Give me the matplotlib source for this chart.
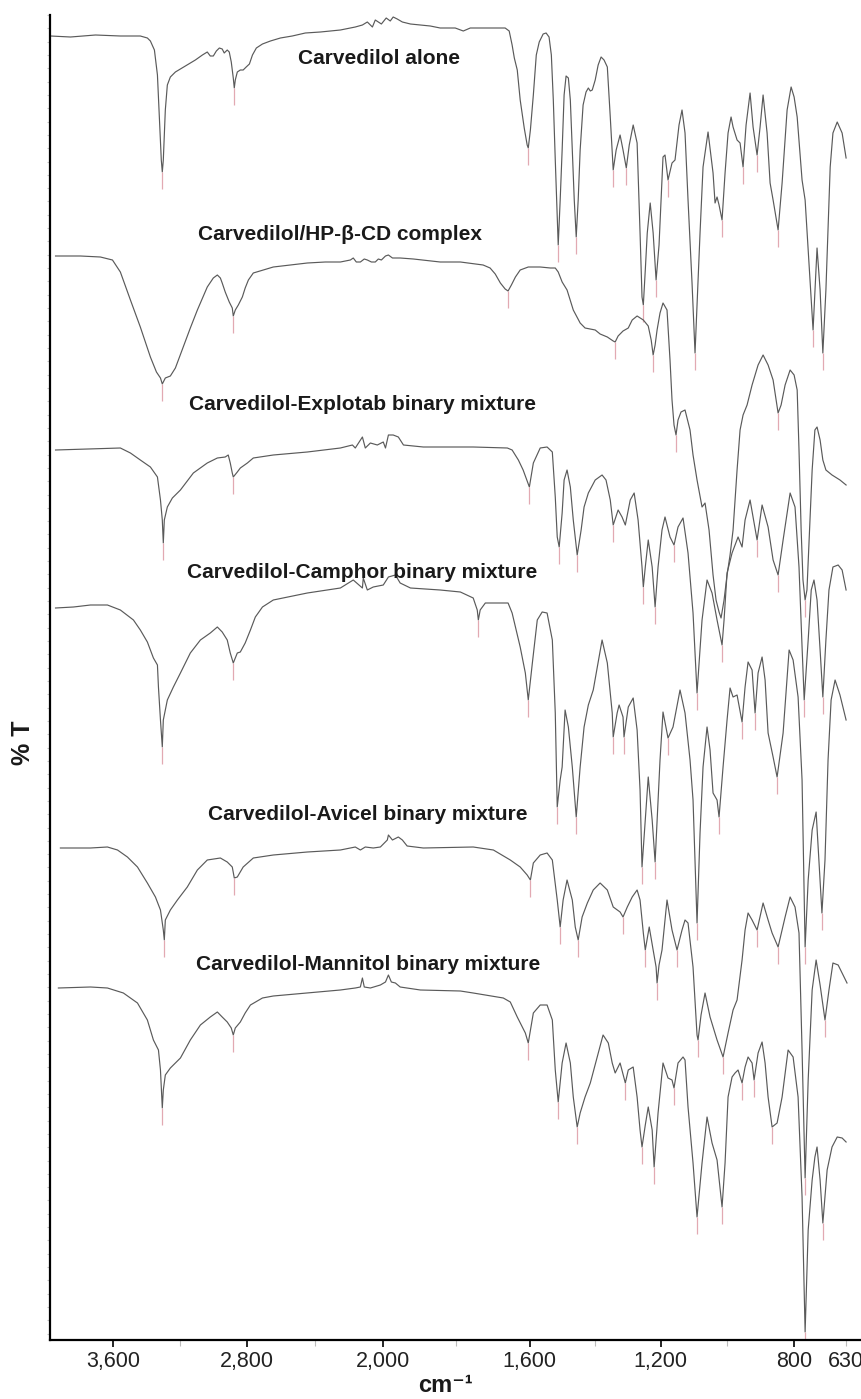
import numpy as np
import matplotlib.pyplot as plt
from matplotlib.ticker import MultipleLocator, NullLocator

plt.rcParams['font.family'] = ['Liberation Sans', 'DejaVu Sans']

# FTIR spectra: wavenumber (cm-1) and stacked %T (offset units)
wn_alone = [3973, 3854, 3705, 3557, 3438, 3396, 3378, 3354, 3336, 3324, 3313, 3307, 3301, 3289, 3277, 3259,
            3229, 3170, 3110, 3068, 3039, 3021, 3003, 2985, 2967, 2950, 2938, 2920, 2908, 2896, 2884, 2878,
            2872, 2860, 2842, 2825, 2807, 2788, 2770, 2747, 2711, 2664, 2605, 2535, 2458, 2369, 2251, 2163,
            2121, 2092, 2074, 2062, 2045, 2027, 2009, 1991, 1980, 1972, 1961, 1947, 1925, 1898, 1871, 1844,
            1803, 1781, 1762, 1708, 1667, 1656, 1648, 1642, 1634, 1626, 1615, 1607, 1604, 1598, 1589, 1580,
            1571, 1559, 1550, 1541, 1534, 1528, 1522, 1516, 1513, 1507, 1501, 1495, 1489, 1482, 1476, 1470,
            1464, 1458, 1452, 1446, 1437, 1428, 1421, 1415, 1409, 1400, 1391, 1382, 1373, 1363, 1354, 1345,
            1336, 1324, 1315, 1305, 1296, 1284, 1272, 1263, 1257, 1253, 1247, 1241, 1232, 1223, 1214, 1205,
            1193, 1187, 1178, 1166, 1157, 1145, 1136, 1127, 1118, 1106, 1097, 1088, 1082, 1073, 1058, 1043,
            1037, 1031, 1025, 1016, 1007, 998, 989, 983, 971, 962, 953, 944, 932, 923, 911, 902, 893, 881,
            872, 863, 848, 836, 821, 809, 800, 790, 774, 764, 754, 738, 725, 715, 706, 696, 682, 673, 659,
            643, 630]
t_alone = [131.1, 131.0, 131.2, 131.1, 131.1, 130.9, 130.6, 129.7, 127.2, 122.7, 118.7, 117.5, 118.7, 123.7,
           126.2, 127.0, 127.5, 128.1, 128.7, 129.2, 129.5, 129.1, 129.1, 129.6, 129.9, 129.8, 129.4, 129.7,
           129.5, 128.5, 126.9, 125.9, 126.7, 127.5, 127.7, 127.7, 128.0, 128.3, 129.2, 129.9, 130.3, 130.6,
           130.9, 131.1, 131.4, 131.5, 131.7, 132.0, 132.2, 132.5, 132.2, 132.0, 132.7, 132.5, 132.3, 132.9,
           132.6, 133.0, 132.8, 132.5, 132.3, 132.2, 132.1, 131.9, 131.9, 131.6, 131.9, 131.9, 131.9, 131.6,
           130.2, 128.9, 127.7, 124.7, 121.9, 120.2, 119.9, 121.7, 125.2, 129.2, 130.5, 131.3, 131.4, 131.0,
           129.2, 124.7, 118.7, 113.2, 110.2, 114.7, 119.7, 125.2, 127.1, 126.9, 124.7, 119.7, 114.7, 111.0,
           114.7, 119.7, 124.2, 125.5, 125.9, 125.6, 125.7, 126.7, 128.2, 129.0, 128.7, 128.0, 123.0, 117.7,
           119.7, 121.2, 119.7, 117.9, 120.2, 122.2, 120.4, 111.4, 105.0, 104.2, 107.7, 111.4, 114.4, 111.4,
           106.7, 110.2, 119.0, 119.2, 116.7, 118.4, 118.7, 122.2, 123.7, 121.4, 114.7, 106.4, 99.4, 106.7,
           111.4, 118.0, 121.5, 117.4, 114.4, 115.0, 114.2, 112.7, 117.4, 121.4, 123.0, 122.0, 120.7, 120.4,
           118.0, 122.2, 125.4, 122.0, 119.2, 122.0, 125.2, 121.4, 116.4, 114.7, 111.7, 116.4, 123.7, 126.0,
           125.0, 123.0, 116.7, 114.7, 109.7, 101.7, 109.9, 105.7, 99.4, 105.7, 118.0, 121.4, 122.5, 121.4,
           118.9]
pk_alone = [3307, 2878, 1604, 1513, 1458, 1345, 1305, 1253, 1214, 1178, 1097, 1016, 953, 911, 848, 738, 706]

wn_hpcd = [3943, 3795, 3676, 3604, 3557, 3497, 3438, 3378, 3342, 3318, 3307, 3289, 3259, 3229, 3182, 3140,
           3098, 3039, 3003, 2979, 2961, 2950, 2932, 2908, 2890, 2884, 2872, 2854, 2830, 2813, 2794, 2765,
           2706, 2647, 2546, 2446, 2340, 2251, 2192, 2175, 2157, 2133, 2110, 2092, 2068, 2045, 2027, 2009,
           1993, 1985, 1974, 1953, 1917, 1844, 1789, 1727, 1708, 1694, 1680, 1667, 1659, 1650, 1639, 1626,
           1604, 1568, 1537, 1522, 1513, 1501, 1486, 1467, 1446, 1431, 1415, 1400, 1385, 1363, 1345, 1339,
           1330, 1315, 1299, 1287, 1272, 1253, 1238, 1229, 1223, 1217, 1211, 1202, 1193, 1181, 1172, 1166,
           1160, 1154, 1148, 1139, 1127, 1112, 1103, 1091, 1076, 1067, 1055, 1043, 1034, 1025, 1019, 1010,
           1001, 992, 983, 971, 962, 953, 941, 926, 908, 893, 878, 863, 854, 848, 839, 827, 812, 800, 790,
           784, 777, 771, 764, 758, 751, 741, 732, 725, 715, 706, 696, 676, 650, 630]
t_hpcd = [109.1, 109.1, 109.0, 108.7, 107.5, 104.7, 102.0, 99.0, 97.5, 96.9, 96.3, 96.9, 97.1, 97.9, 100.0,
          101.9, 103.7, 106.0, 106.9, 107.2, 106.9, 106.4, 105.5, 104.5, 103.9, 103.1, 103.7, 104.2, 105.0,
          105.9, 106.7, 107.4, 107.7, 108.0, 108.2, 108.4, 108.5, 108.5, 108.7, 108.9, 108.5, 108.5, 108.8,
          108.7, 108.5, 108.5, 108.8, 108.7, 109.1, 109.2, 108.9, 108.9, 108.8, 108.5, 108.5, 108.2, 107.9,
          107.3, 106.4, 105.8, 105.6, 106.2, 107.0, 107.7, 108.0, 108.0, 107.9, 107.9, 107.5, 106.5, 105.7,
          103.7, 102.4, 101.9, 101.8, 101.7, 101.3, 101.0, 100.6, 100.5, 101.1, 101.6, 101.9, 102.7, 103.1,
          102.7, 102.1, 100.7, 99.2, 100.2, 101.7, 103.4, 104.4, 103.7, 98.7, 94.7, 92.2, 91.2, 92.7, 93.5,
          93.7, 91.7, 89.2, 86.7, 84.0, 84.4, 81.7, 77.2, 74.7, 73.5, 72.9, 74.7, 77.2, 79.2, 81.7, 87.7,
          91.7, 93.2, 94.2, 96.2, 98.2, 99.2, 98.2, 96.7, 94.7, 93.4, 94.2, 96.2, 97.7, 97.2, 95.7, 89.7,
          81.7, 76.7, 74.7, 75.7, 80.7, 87.7, 91.7, 92.0, 90.7, 88.7, 87.7, 87.2, 86.7, 86.2]
pk_hpcd = [3307, 2884, 1659, 1339, 1223, 1154, 848, 764]

wn_explotab = [3943, 3557, 3497, 3438, 3378, 3336, 3318, 3307, 3301, 3295, 3277, 3247, 3199, 3122, 3039,
               2979, 2932, 2914, 2902, 2890, 2884, 2860, 2842, 2800, 2765, 2647, 2446, 2251, 2180, 2163,
               2121, 2104, 2074, 2033, 1999, 1993, 1985, 1972, 1958, 1944, 1890, 1844, 1754, 1661, 1648,
               1631, 1618, 1601, 1589, 1568, 1547, 1531, 1522, 1516, 1510, 1501, 1495, 1486, 1476, 1467,
               1455, 1443, 1434, 1421, 1400, 1379, 1367, 1354, 1345, 1330, 1318, 1308, 1293, 1281, 1269,
               1257, 1253, 1247, 1238, 1226, 1217, 1208, 1196, 1187, 1172, 1160, 1148, 1133, 1118, 1103,
               1091, 1076, 1061, 1046, 1031, 1016, 1010, 1001, 986, 977, 968, 956, 947, 932, 911, 896, 878,
               863, 848, 833, 812, 797, 784, 774, 767, 754, 744, 735, 725, 715, 706, 696, 686, 673, 656,
               643, 630]
t_explotab = [89.7, 89.9, 89.4, 88.7, 88.0, 87.0, 84.7, 82.7, 80.4, 82.7, 84.0, 84.9, 85.7, 87.4, 88.4, 88.9,
              89.0, 89.2, 88.4, 87.4, 87.0, 87.5, 87.9, 88.4, 88.9, 89.2, 89.5, 89.9, 90.2, 89.9, 91.0, 89.9,
              90.4, 90.2, 90.5, 89.9, 91.2, 91.2, 91.0, 90.2, 90.0, 90.0, 90.0, 89.9, 89.7, 88.7, 87.7, 86.0,
              88.4, 89.9, 90.0, 89.5, 85.0, 81.0, 80.0, 83.4, 86.7, 87.7, 86.0, 82.7, 79.2, 81.7, 84.0, 85.4,
              86.7, 87.2, 86.7, 84.7, 82.2, 83.7, 83.0, 82.2, 84.7, 85.4, 82.7, 78.0, 76.0, 78.0, 80.7, 78.0,
              74.0, 78.0, 81.7, 83.0, 81.0, 80.2, 82.0, 82.9, 79.4, 73.4, 65.4, 72.7, 76.7, 75.4, 72.7, 70.2,
              72.7, 77.4, 79.4, 80.2, 81.0, 80.0, 82.7, 84.7, 80.7, 84.2, 82.0, 78.7, 77.2, 80.7, 85.4, 84.0,
              78.0, 70.0, 64.7, 70.7, 75.7, 76.7, 74.7, 69.7, 65.0, 70.7, 75.7, 78.0, 78.2, 77.7, 75.7]
pk_explotab = [3301, 2884, 1601, 1510, 1455, 1345, 1253, 1217, 1160, 1091, 1016, 911, 848, 767, 706]

wn_camphor = [3943, 3836, 3735, 3634, 3557, 3479, 3438, 3396, 3360, 3336, 3330, 3318, 3307, 3301, 3277, 3241,
              3199, 3140, 3080, 3021, 2979, 2950, 2920, 2902, 2884, 2860, 2842, 2813, 2782, 2753, 2711, 2647,
              2446, 2251, 2175, 2121, 2116, 2092, 2057, 1999, 1985, 1966, 1953, 1925, 1844, 1789, 1754, 1743,
              1740, 1735, 1721, 1688, 1659, 1648, 1639, 1626, 1612, 1604, 1592, 1577, 1562, 1547, 1531, 1522,
              1516, 1507, 1501, 1492, 1482, 1470, 1458, 1446, 1434, 1421, 1406, 1394, 1379, 1363, 1348, 1345,
              1333, 1327, 1315, 1312, 1299, 1284, 1272, 1263, 1257, 1247, 1238, 1226, 1217, 1208, 1202, 1193,
              1178, 1163, 1142, 1127, 1112, 1103, 1091, 1082, 1073, 1061, 1052, 1043, 1031, 1025, 1013, 1001,
              992, 983, 971, 956, 947, 938, 926, 917, 908, 896, 887, 878, 863, 851, 833, 815, 803, 787, 774,
              764, 754, 741, 728, 719, 709, 699, 689, 679, 666, 650, 630]
t_camphor = [73.9, 74.0, 74.2, 74.2, 73.7, 72.7, 71.7, 70.5, 68.9, 68.2, 66.0, 62.7, 60.0, 62.7, 64.7, 66.0,
             67.4, 69.4, 70.7, 71.4, 72.0, 71.5, 70.7, 69.4, 68.4, 69.4, 69.5, 70.4, 71.7, 73.0, 74.0, 74.7,
             75.4, 75.9, 76.7, 75.9, 76.9, 75.7, 76.0, 76.2, 77.0, 77.2, 76.4, 75.9, 75.7, 75.5, 74.9, 73.7,
             72.7, 73.7, 74.4, 74.4, 74.4, 73.4, 72.0, 70.0, 67.4, 64.7, 68.4, 72.7, 73.5, 73.4, 70.7, 63.4,
             54.0, 56.7, 58.0, 63.7, 62.0, 58.0, 53.0, 58.0, 62.0, 64.2, 65.7, 67.9, 70.7, 68.4, 63.4, 61.0,
             63.4, 64.2, 63.0, 61.0, 64.0, 64.9, 61.7, 55.7, 48.0, 52.7, 57.0, 52.7, 48.5, 54.7, 58.7, 63.5,
             60.9, 62.0, 65.7, 63.4, 58.7, 54.7, 42.4, 51.4, 58.0, 62.0, 59.7, 55.4, 54.7, 53.0, 58.0, 62.7,
             65.9, 65.0, 65.2, 62.5, 66.0, 68.5, 67.7, 63.4, 67.4, 69.0, 66.7, 61.4, 59.0, 57.0, 61.4, 69.7,
             68.7, 65.0, 56.7, 40.0, 46.7, 51.7, 53.5, 48.7, 43.4, 48.7, 58.7, 64.7, 66.7, 65.2, 62.7]
pk_camphor = [3307, 2884, 1740, 1604, 1516, 1458, 1345, 1312, 1257, 1217, 1178, 1091, 1025, 956, 917, 851,
              764, 709]

wn_avicel = [3914, 3735, 3634, 3574, 3515, 3455, 3396, 3348, 3318, 3301, 3295, 3289, 3259, 3217, 3158, 3098,
             3039, 2961, 2920, 2890, 2878, 2860, 2825, 2765, 2647, 2446, 2251, 2163, 2133, 2104, 2057, 2015,
             1988, 1985, 1974, 1958, 1947, 1934, 1890, 1754, 1699, 1653, 1626, 1607, 1598, 1589, 1568, 1547,
             1531, 1516, 1507, 1498, 1486, 1470, 1461, 1452, 1440, 1424, 1406, 1385, 1363, 1345, 1324, 1315,
             1302, 1287, 1272, 1263, 1253, 1247, 1235, 1223, 1214, 1211, 1205, 1196, 1181, 1166, 1151, 1136,
             1127, 1118, 1103, 1091, 1088, 1079, 1067, 1052, 1031, 1013, 998, 983, 971, 956, 947, 938, 926,
             911, 893, 878, 866, 848, 827, 812, 797, 784, 774, 764, 754, 741, 728, 715, 699, 686, 673, 656, 627]
t_avicel = [49.9, 49.9, 50.0, 49.7, 49.0, 48.0, 46.4, 45.0, 43.7, 41.7, 40.7, 42.7, 43.7, 44.7, 46.0, 47.7,
            48.7, 48.9, 48.5, 48.0, 46.9, 47.0, 48.0, 48.9, 49.2, 49.5, 49.7, 50.0, 49.7, 50.0, 49.9, 50.0,
            50.7, 51.2, 50.7, 51.0, 50.7, 50.1, 49.9, 50.0, 49.7, 48.7, 48.0, 47.2, 46.7, 48.4, 49.2, 49.4,
            48.7, 44.7, 42.0, 44.7, 46.7, 44.7, 42.0, 40.7, 43.0, 44.4, 45.7, 46.4, 45.7, 44.0, 43.5, 43.0,
            44.0, 45.0, 45.7, 44.7, 41.4, 39.7, 42.0, 39.7, 38.0, 36.4, 38.2, 39.7, 44.7, 41.7, 39.7, 41.7,
            42.7, 42.4, 38.0, 31.2, 30.7, 33.2, 35.4, 33.0, 30.7, 29.0, 31.4, 33.7, 34.7, 38.7, 41.7, 43.4,
            42.7, 41.7, 44.4, 42.7, 41.4, 40.0, 43.0, 45.0, 44.0, 41.4, 29.7, 16.9, 26.7, 35.7, 38.7, 36.2,
            32.7, 35.7, 38.4, 38.2, 36.4]
pk_avicel = [3295, 2878, 1598, 1507, 1452, 1315, 1247, 1211, 1151, 1088, 1013, 911, 848, 764, 699]

wn_mannitol = [3926, 3735, 3634, 3539, 3455, 3396, 3360, 3330, 3318, 3307, 3301, 3289, 3259, 3199, 3140, 3080,
               3021, 2979, 2950, 2920, 2896, 2884, 2872, 2842, 2813, 2782, 2711, 2647, 2446, 2251, 2163, 2133,
               2121, 2110, 2074, 2015, 1993, 1985, 1977, 1966, 1953, 1898, 1789, 1754, 1672, 1653, 1634, 1612,
               1604, 1589, 1568, 1547, 1531, 1522, 1513, 1501, 1489, 1476, 1467, 1455, 1446, 1431, 1415, 1394,
               1376, 1360, 1348, 1339, 1324, 1308, 1299, 1284, 1272, 1263, 1257, 1247, 1238, 1226, 1220, 1208,
               1193, 1178, 1166, 1160, 1148, 1133, 1127, 1118, 1103, 1091, 1076, 1061, 1046, 1031, 1016, 1007,
               998, 986, 977, 968, 956, 947, 938, 926, 920, 908, 896, 887, 878, 866, 851, 836, 818, 803, 787,
               774, 764, 754, 741, 732, 725, 715, 706, 692, 676, 659, 643, 630]
t_mannitol = [35.9, 36.0, 35.9, 35.4, 34.4, 32.7, 30.7, 29.7, 27.7, 23.9, 25.7, 27.2, 27.9, 28.9, 30.7, 32.2,
              33.0, 33.5, 33.0, 32.5, 31.9, 31.2, 31.9, 32.5, 33.4, 34.2, 34.9, 35.1, 35.4, 35.7, 35.9, 36.0,
              36.9, 36.0, 35.9, 36.2, 36.5, 37.2, 36.5, 36.4, 36.0, 35.7, 35.6, 35.4, 34.9, 34.5, 33.0, 31.4,
              30.4, 33.4, 34.2, 34.2, 32.7, 27.7, 24.5, 28.4, 30.4, 28.4, 25.0, 22.0, 23.4, 25.0, 26.4, 29.0,
              31.2, 30.4, 28.4, 27.4, 28.4, 26.4, 27.7, 28.0, 25.0, 21.7, 20.0, 22.2, 24.0, 21.7, 18.0, 23.4,
              28.4, 26.9, 26.7, 25.9, 28.4, 29.0, 28.7, 24.0, 18.4, 13.0, 18.4, 23.0, 20.4, 18.7, 14.0, 18.4,
              25.0, 27.0, 27.4, 27.7, 26.4, 28.0, 29.0, 28.4, 26.7, 29.4, 30.5, 28.4, 25.0, 22.0, 22.4, 25.0,
              29.7, 29.0, 25.0, 15.0, 1.5, 11.7, 16.7, 19.0, 20.0, 16.7, 12.4, 17.7, 20.0, 21.0, 20.9, 20.5]
pk_mannitol = [3307, 2884, 1604, 1513, 1455, 1308, 1257, 1220, 1160, 1091, 1016, 956, 920, 866, 764, 706]

names = ["Carvedilol alone", "Carvedilol/HP-\u03b2-CD complex", "Carvedilol-Explotab binary mixture",
         "Carvedilol-Camphor binary mixture", "Carvedilol-Avicel binary mixture",
         "Carvedilol-Mannitol binary mixture"]
wn_all = [wn_alone, wn_hpcd, wn_explotab, wn_camphor, wn_avicel, wn_mannitol]
t_all = [t_alone, t_hpcd, t_explotab, t_camphor, t_avicel, t_mannitol]
pk_all = [pk_alone, pk_hpcd, pk_explotab, pk_camphor, pk_avicel, pk_mannitol]

# where the sample names sit (wavenumber, offset %T)
label_pos = [(2024, 128.9), (2251, 111.2), (2121, 94.2), (2124, 77.5), (2089, 53.2), (2089, 38.2)]

# the instrument axis is compressed above 2,000 cm-1
wn_knots = [500, 630, 800, 1200, 1600, 2000, 2800, 3600, 4100]
pos_knots = [-885.8, -846, -794, -660.5, -529.5, -382.6, -247, -112.7, -28.7]


def fwd(w):
    return np.interp(w, wn_knots, pos_knots)


def inv(u):
    return np.interp(u, pos_knots, wn_knots)


fig = plt.figure(figsize=(8.62, 13.99), dpi=100)
ax = fig.add_axes([50 / 862, 59 / 1399, 812 / 862, 1325 / 1399])
ax.set_xscale('function', functions=(fwd, inv))

for wn, t, pk in zip(wn_all, t_all, pk_all):
    ax.plot(wn, t, color='#5a5a5a', lw=0.85)
    w_up = np.array(wn[::-1], dtype=float)
    t_up = np.array(t[::-1], dtype=float)
    tp = np.interp(pk, w_up, t_up)
    ax.vlines(pk, tp - 1.7, tp, color='#e2a9b2', lw=0.9)

for name, (x, y) in zip(names, label_pos):
    ax.text(x, y, name, ha='center', va='center', fontsize=15, fontweight='bold', color='#1a1a1a')

ax.set_xlim(3976, 578)
ax.set_ylim(0.7, 133.2)

ax.set_xticks([3600, 2800, 2000, 1600, 1200, 800])
ax.set_xticklabels(["3,600", "2,800", "2,000", "1,600", "1,200", "800"], fontsize=15.5)
ax.set_xticks([3200, 2400, 1800, 1400, 1000, 630], labels=["", "", "", "", "", "630"], minor=True,
              fontsize=15.5)
ax.tick_params(axis='x', which='major', length=5, width=1.2, color='black', pad=3, labelcolor='#222222')
ax.tick_params(axis='x', which='minor', length=4, width=0.8, color='#bbbbbb', pad=4, labelcolor='#222222')

ax.yaxis.set_major_locator(NullLocator())
ax.yaxis.set_minor_locator(MultipleLocator(1.332))
ax.tick_params(axis='y', which='minor', length=2.5, width=0.8, color='#c4c4c4')

for side in ['top', 'right']:
    ax.spines[side].set_visible(False)
for side in ['left', 'bottom']:
    ax.spines[side].set_linewidth(1.6)

fig.text(445 / 862, 1 - 1385 / 1399, "cm\u207b\u00b9", fontsize=17, fontweight='bold',
         ha='center', va='center', color='#1a1a1a')
fig.text(23 / 862, 1 - 743 / 1399, "% T", fontsize=18, fontweight='bold', rotation=90,
         ha='center', va='center', color='#1a1a1a')

fig.savefig("out.png", dpi=100)
